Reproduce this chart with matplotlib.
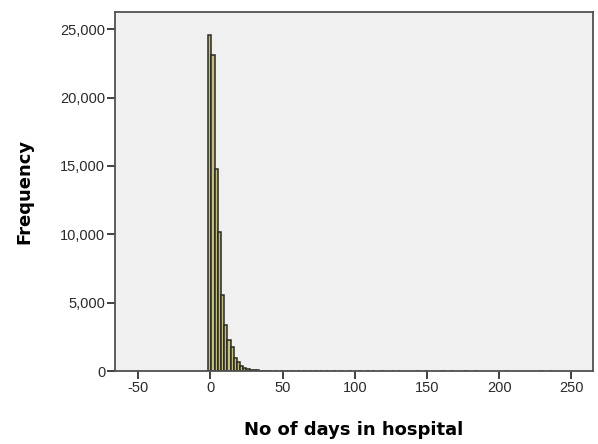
import matplotlib
matplotlib.use("Agg")
import matplotlib.pyplot as plt
from matplotlib.ticker import FuncFormatter

# histogram bins (left edges, days) and counts
bin_width = 2.2
bin_left = [-1.4 + i * bin_width for i in range(20)]
counts = [24600, 23100, 14750, 10200, 5550, 3350, 2250, 1750, 950, 680,
          330, 230, 140, 90, 60, 45, 35, 28, 22, 18]

# sparse long tail
tail_left = [45, 48, 52, 56, 60, 64, 68, 72, 76, 80, 85, 90, 96, 102, 108,
             112, 118, 125, 130, 142, 148, 160, 166, 176, 183, 204, 228, 235]
tail_counts = [15, 12, 10, 9, 8, 7, 6, 6, 5, 5, 4, 4, 3, 3, 3,
               2, 2, 2, 2, 2, 2, 1, 1, 1, 1, 1, 1, 1]

x_ticks = [-50, 0, 50, 100, 150, 200, 250]
y_ticks = [0, 5000, 10000, 15000, 20000, 25000]

plt.rcParams["font.family"] = ["Liberation Sans", "DejaVu Sans"]
plt.rcParams["axes.unicode_minus"] = False

fig = plt.figure(figsize=(5.98, 4.44), dpi=100)
ax = fig.add_axes([0.1923, 0.1644, 0.7993, 0.8086])
ax.set_facecolor("#F0F0F0")

fill = "#C4BE80"
ax.bar(bin_left, counts, width=bin_width, align="edge",
       color=fill, edgecolor="#2a2a20", linewidth=1.1)
ax.bar(tail_left, tail_counts, width=bin_width, align="edge",
       color=fill, edgecolor="#2a2a20", linewidth=1.1)

ax.set_xlim(-66, 265)
ax.set_ylim(0, 26260)
ax.set_xticks(x_ticks)
ax.set_yticks(y_ticks)
ax.yaxis.set_major_formatter(FuncFormatter(lambda v, p: f"{int(v):,}"))

for s in ax.spines.values():
    s.set_color("#505050")
    s.set_linewidth(1.3)
ax.tick_params(direction="out", length=6, width=1.3, color="#333333",
               labelsize=10.5, labelcolor="#2b2b2b", pad=1)

ax.set_xlabel("No of days in hospital", fontsize=13, fontweight="bold",
              family="DejaVu Sans", labelpad=19)
ax.set_ylabel("Frequency", fontsize=13, fontweight="bold",
              family="DejaVu Sans", labelpad=19)

fig.savefig("out.png", dpi=100)
